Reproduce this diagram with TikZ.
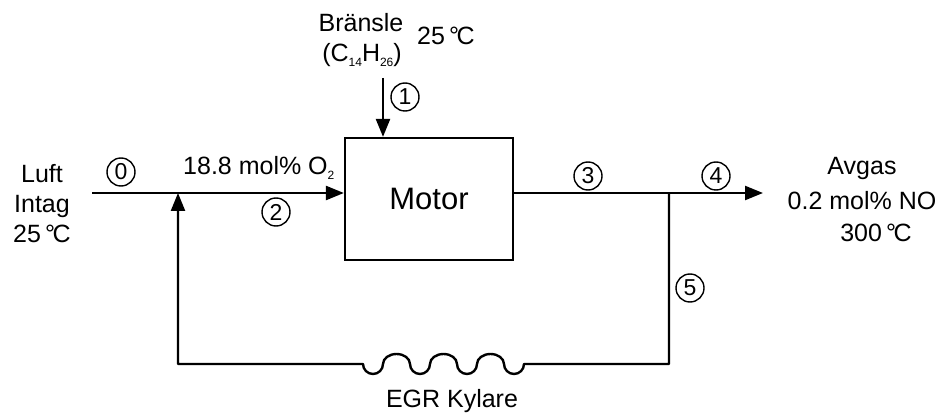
\documentclass[tikz,border=0pt]{standalone}
\usepackage{fontspec}
\setmainfont{Liberation Sans}
\usetikzlibrary{arrows.meta}
\newcommand\degc{\,°\kern-0.1em C}
\newcommand\chemsub[1]{\raisebox{-0.35ex}{\fontsize{12}{12}\selectfont #1}}
\begin{document}
\begin{tikzpicture}[x=1pt,y=-1pt, line width=2.4pt,
  flow/.style={-{Triangle[length=18pt,width=14pt]}},
  lbl/.style={font=\fontsize{25}{30}\selectfont, inner sep=0pt, anchor=base},
  num/.style={circle, draw, line width=1.4pt, minimum size=28pt, inner sep=0pt, font=\fontsize{23}{23}\selectfont},
]
\useasboundingbox (0,0) rectangle (946,414);
\node[draw, line width=2.2pt, minimum width=168pt, minimum height=122pt, font=\fontsize{31}{31}\selectfont] (motor) at (429,199) {Motor};
\coordinate (in0) at (92,193);
\coordinate (mix) at (178,193);
\coordinate (split) at (669,193);
\coordinate (out) at (763,193);
\coordinate (fuel) at (383,78);
\coordinate (bl) at (178,364);
\coordinate (br) at (669,364);
\coordinate (ce) at (524,364);
\draw[flow] (in0) -- (motor.west |- in0);
\draw[flow] (fuel) -- (fuel |- motor.north);
\draw[flow] (motor.east |- out) -- (out);
\draw[flow, line join=round] (split) -- (br) -- (ce)
  arc[start angle=0, end angle=180, x radius=10, y radius=10]
  arc[start angle=360, end angle=180, x radius=13.5, y radius=10]
  arc[start angle=0, end angle=180, x radius=10, y radius=10]
  arc[start angle=360, end angle=180, x radius=13.5, y radius=10]
  arc[start angle=0, end angle=180, x radius=10, y radius=10]
  arc[start angle=360, end angle=180, x radius=13.5, y radius=10]
  arc[start angle=0, end angle=180, x radius=10, y radius=10]
  -- (bl) -- (mix);
\node[lbl] (bra) at (361,32) {Bränsle};
\node[lbl] (fuelf) at (362,62) {(C\chemsub{14}H\chemsub{26})};
\node[lbl] (fuelT) at (446,45) {25\degc};
\node[lbl] (luft) at (42,183) {Luft};
\node[lbl] (intag) at (42,213) {Intag};
\node[lbl] (inT) at (42,243) {25\degc};
\node[lbl, anchor=base west] (o2) at (182,175) {18.8 mol\% O\chemsub{2}};
\node[lbl] (avg) at (862,175) {Avgas};
\node[lbl] (no) at (862,210) {0.2 mol\% NO};
\node[lbl] (outT) at (876,242) {300\degc};
\node[lbl] (egr) at (452,407) {EGR Kylare};
\node[num] (n0) at (121,172) {0};
\node[num] (n1) at (405,97) {1};
\node[num] (n2) at (276,212) {2};
\node[num] (n3) at (588,176) {3};
\node[num] (n4) at (716,176) {4};
\node[num] (n5) at (690,288) {5};
\end{tikzpicture}
\end{document}
